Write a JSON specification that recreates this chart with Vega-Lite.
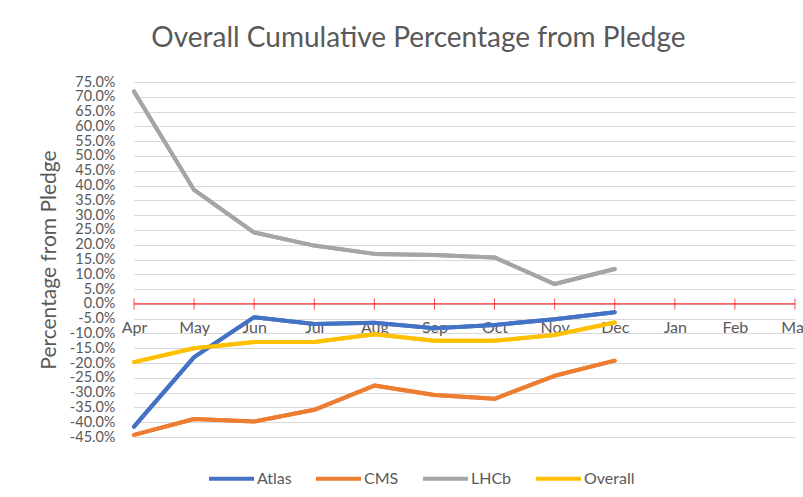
{
  "$schema": "https://vega.github.io/schema/vega-lite/v6.json",
  "width": 661,
  "height": 355,
  "autosize": {"type": "none"},
  "padding": {"left": 134, "top": 82, "right": 8, "bottom": 60},
  "background": "white",
  "title": {
    "text": "Overall Cumulative Percentage from Pledge",
    "font": "Lato",
    "fontSize": 28,
    "fontWeight": "normal",
    "color": "#595959",
    "anchor": "middle",
    "dx": -46,
    "offset": 21
  },
  "config": {
    "view": {"stroke": null},
    "font": "Lato",
    "locale": {"number": {"decimal": ".", "thousands": ",", "grouping": [3], "currency": ["$", ""], "minus": "-"}},
    "axisX": {
      "offset": -133, "domain": false, "ticks": false, "grid": false, "labelPadding": 15,
      "labelFontSize": 16, "labelColor": "#595959", "labelAngle": 0, "labelFlush": false
    }
  },
  "datasets": {
    "series": [
      {"month": "Apr", "series": "Atlas", "value": -0.415},
      {"month": "May", "series": "Atlas", "value": -0.18},
      {"month": "Jun", "series": "Atlas", "value": -0.045},
      {"month": "Jul", "series": "Atlas", "value": -0.068},
      {"month": "Aug", "series": "Atlas", "value": -0.064},
      {"month": "Sep", "series": "Atlas", "value": -0.082},
      {"month": "Oct", "series": "Atlas", "value": -0.071},
      {"month": "Nov", "series": "Atlas", "value": -0.052},
      {"month": "Dec", "series": "Atlas", "value": -0.028},
      {"month": "Apr", "series": "CMS", "value": -0.443},
      {"month": "May", "series": "CMS", "value": -0.389},
      {"month": "Jun", "series": "CMS", "value": -0.398},
      {"month": "Jul", "series": "CMS", "value": -0.358},
      {"month": "Aug", "series": "CMS", "value": -0.276},
      {"month": "Sep", "series": "CMS", "value": -0.308},
      {"month": "Oct", "series": "CMS", "value": -0.321},
      {"month": "Nov", "series": "CMS", "value": -0.243},
      {"month": "Dec", "series": "CMS", "value": -0.192},
      {"month": "Apr", "series": "LHCb", "value": 0.718},
      {"month": "May", "series": "LHCb", "value": 0.385},
      {"month": "Jun", "series": "LHCb", "value": 0.241},
      {"month": "Jul", "series": "LHCb", "value": 0.197},
      {"month": "Aug", "series": "LHCb", "value": 0.169},
      {"month": "Sep", "series": "LHCb", "value": 0.165},
      {"month": "Oct", "series": "LHCb", "value": 0.157},
      {"month": "Nov", "series": "LHCb", "value": 0.067},
      {"month": "Dec", "series": "LHCb", "value": 0.118},
      {"month": "Apr", "series": "Overall", "value": -0.197},
      {"month": "May", "series": "Overall", "value": -0.15},
      {"month": "Jun", "series": "Overall", "value": -0.129},
      {"month": "Jul", "series": "Overall", "value": -0.129},
      {"month": "Aug", "series": "Overall", "value": -0.103},
      {"month": "Sep", "series": "Overall", "value": -0.125},
      {"month": "Oct", "series": "Overall", "value": -0.125},
      {"month": "Nov", "series": "Overall", "value": -0.105},
      {"month": "Dec", "series": "Overall", "value": -0.063}
    ],
    "months": [
      {"month": "Apr"}, {"month": "May"}, {"month": "Jun"}, {"month": "Jul"},
      {"month": "Aug"}, {"month": "Sep"}, {"month": "Oct"}, {"month": "Nov"},
      {"month": "Dec"}, {"month": "Jan"}, {"month": "Feb"}, {"month": "Mar"}
    ]
  },
  "layer": [
    {
      "data": {"name": "series"},
      "mark": {"type": "line", "strokeWidth": 4, "strokeCap": "round", "strokeJoin": "round"},
      "encoding": {
        "x": {
          "field": "month", "type": "ordinal", "title": null,
          "scale": {"type": "point", "padding": 0, "domain": ["Apr", "May", "Jun", "Jul", "Aug", "Sep", "Oct", "Nov", "Dec", "Jan", "Feb", "Mar"]}
        },
        "y": {
          "field": "value", "type": "quantitative", "title": "Percentage from Pledge",
          "scale": {"domain": [-0.45, 0.75], "nice": false, "zero": false},
          "axis": {
            "values": [-0.45, -0.4, -0.35, -0.3, -0.25, -0.2, -0.15, -0.1, -0.05, 0, 0.05, 0.1, 0.15, 0.2, 0.25, 0.3, 0.35, 0.4, 0.45, 0.5, 0.55, 0.6, 0.65, 0.7, 0.75],
            "tickCount": 40,
            "format": ".1%",
            "labelFontSize": 14.5,
            "labelColor": "#595959",
            "labelPadding": 19,
            "labelOverlap": false,
            "labelFlush": false,
            "domain": false,
            "ticks": false,
            "grid": true,
            "gridColor": "#D9D9D9",
            "gridWidth": 1,
            "titleFontSize": 21,
            "titleFontWeight": "normal",
            "titleColor": "#595959",
            "titlePadding": 10
          }
        },
        "color": {
          "field": "series", "type": "nominal",
          "scale": {"domain": ["Atlas", "CMS", "LHCb", "Overall"], "range": ["#4472C4", "#ED7D31", "#A5A5A5", "#FFC000"]},
          "legend": {
            "orient": "none", "legendX": 73, "legendY": 372, "direction": "horizontal",
            "title": null, "symbolType": "stroke", "symbolStrokeWidth": 4, "symbolSize": 2025,
            "labelFontSize": 16, "labelColor": "#595959", "labelOffset": 1, "columnPadding": 16
          }
        }
      }
    },
    {
      "data": {"values": [{"z": 0}]},
      "mark": {"type": "rule", "color": "#FF0000", "strokeWidth": 1},
      "encoding": {
        "y": {"field": "z", "type": "quantitative"}
      }
    },
    {
      "data": {"name": "months"},
      "mark": {"type": "tick", "orient": "vertical", "size": 11, "thickness": 1, "color": "#FF0000"},
      "encoding": {
        "x": {"field": "month", "type": "ordinal"},
        "y": {"datum": 0, "type": "quantitative"}
      }
    },
    {
      "data": {"name": "series"},
      "mark": {"type": "line", "strokeWidth": 4, "strokeCap": "round", "strokeJoin": "round"},
      "encoding": {
        "x": {"field": "month", "type": "ordinal"},
        "y": {"field": "value", "type": "quantitative"},
        "color": {"field": "series", "type": "nominal"}
      }
    }
  ]
}
